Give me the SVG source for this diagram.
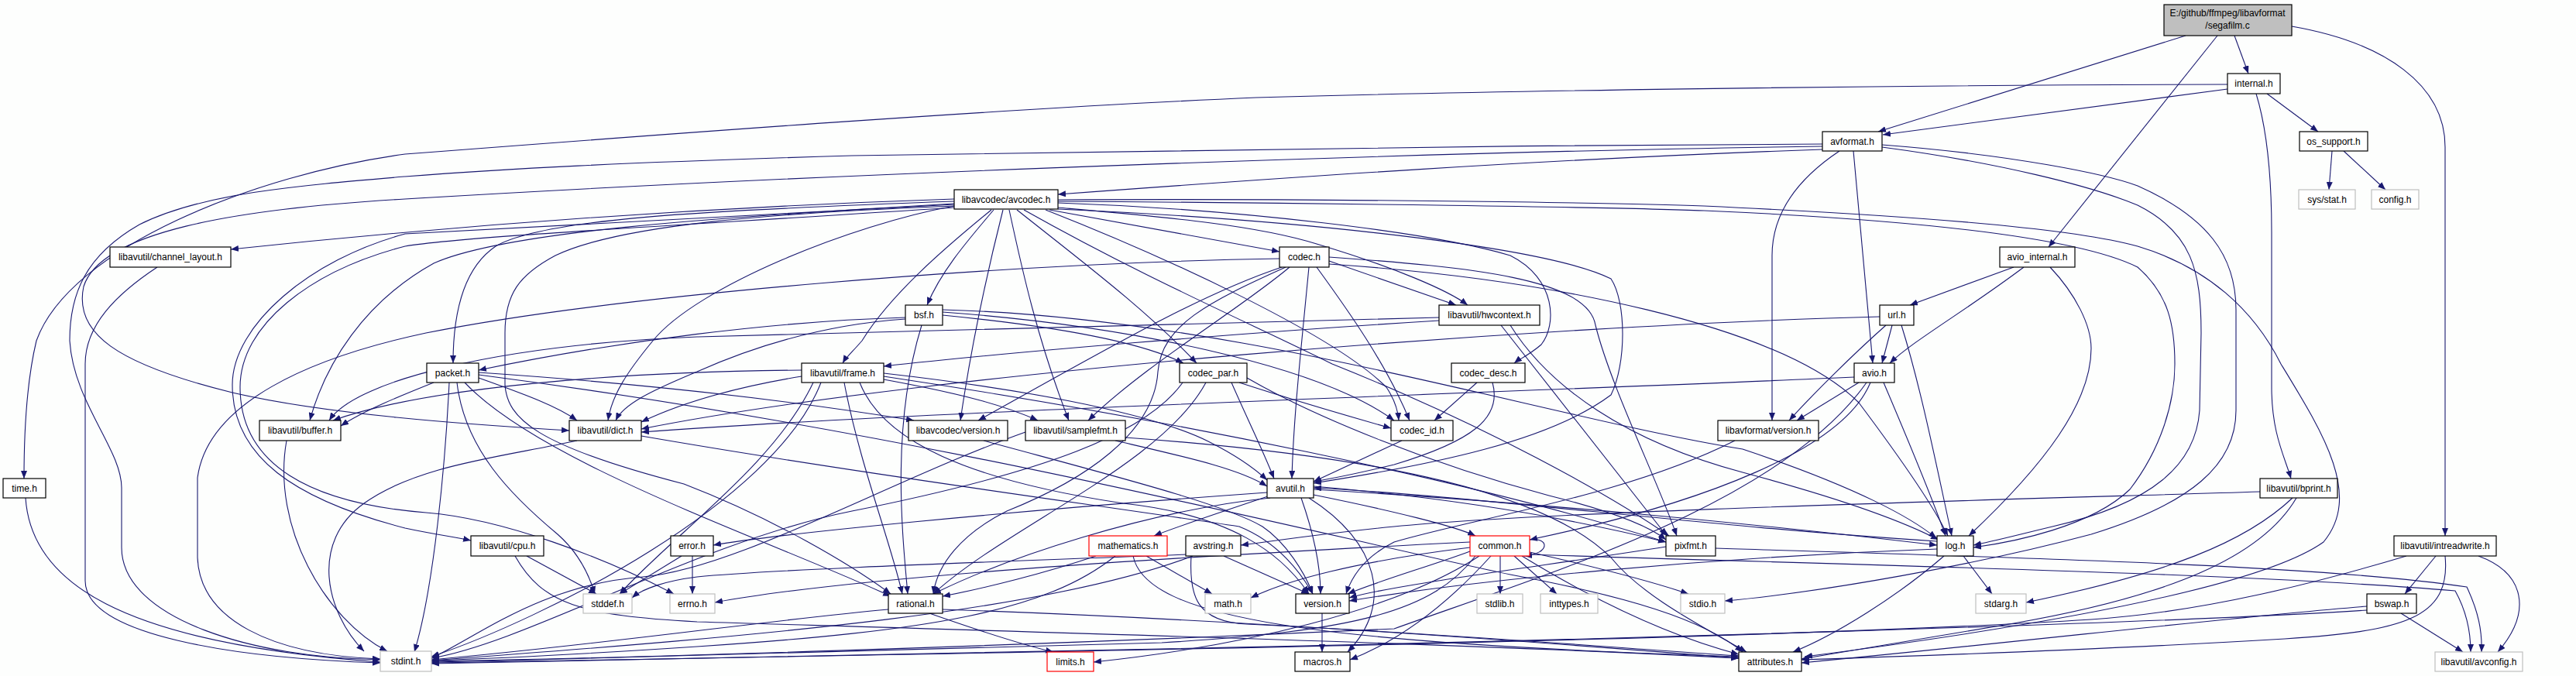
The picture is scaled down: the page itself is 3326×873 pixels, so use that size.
<svg xmlns="http://www.w3.org/2000/svg" width="3326" height="873" viewBox="0 0 3326 873">
<defs>
<marker id="a" viewBox="0 0 10 8" refX="10" refY="4" markerWidth="10" markerHeight="8" markerUnits="userSpaceOnUse" orient="auto"><path d="M0,0 L10,4 L0,8 z" fill="#191970"/></marker>
<style>
.e path{fill:none;stroke:#191970;stroke-width:1.1;marker-end:url(#a)}
.n rect{fill:#ffffff;stroke:#000000;stroke-width:1.2}
.n.g rect{stroke:#bfbfbf}
.n.r rect{stroke:#ff0000}
.n.root rect{fill:#bfbfbf}
text{font-family:"Liberation Sans",Arial,Helvetica,sans-serif;font-size:12px;fill:#000;text-anchor:middle}
</style>
</defs>
<rect x="0" y="0" width="3326" height="873" fill="#fdfefd"/>
<g id="edges" class="e">
<path d="M2885,46 L2903,95"/>
<path d="M2822,46 L2425,170"/>
<path d="M2863,46 L2645,319"/>
<path d="M2959,34 C3080,55 3157,110 3157,190 L3157,692"/>
<path d="M2876,115 L2431,174"/>
<path d="M2876,109 C2400,110 1900,118 1622,126 C1300,140 900,170 523,199 C330,225 90,320 47,440 C35,490 31,550 31,618"/>
<path d="M2913,121 C2928,170 2933,230 2933,300 L2933,500 C2933,560 2950,590 2958,618"/>
<path d="M2927,121 L2993,170"/>
<path d="M3011,195 L3007,245"/>
<path d="M3026,195 L3080,245"/>
<path d="M2353,193 C2000,205 1650,230 1366,251"/>
<path d="M2353,186 C1900,188 1300,195 1100,201 C800,210 650,218 523,228 C380,240 260,250 180,290 C110,330 90,380 90,440 C95,520 157,580 157,630 L157,707 C157,800 330,850 491,852"/>
<path d="M2353,189 C1900,195 1100,222 523,257 C300,270 130,300 108,370 C95,430 150,470 300,507 C420,535 600,548 735,556"/>
<path d="M2375,195 C2315,235 2288,280 2288,330 L2288,543"/>
<path d="M2393,195 L2418,469"/>
<path d="M2430,187 C2600,200 2720,225 2760,240 C2850,280 2887,330 2887,400 L2887,530 C2887,600 2830,650 2700,690 C2550,730 2350,765 2227,776"/>
<path d="M2430,190 C2580,210 2700,240 2760,265 C2830,300 2842,350 2842,430 L2840,530 C2835,600 2780,650 2650,680 C2600,692 2570,700 2548,704"/>
<path d="M2600,345 L2466,394"/>
<path d="M2613,345 C2540,400 2470,440 2440,469"/>
<path d="M2647,345 C2680,380 2700,420 2700,450 C2700,520 2640,600 2542,692"/>
<path d="M3145,718 L3105,767"/>
<path d="M3200,718 C3260,740 3270,790 3225,842"/>
<path d="M3107,718 C3000,750 2850,790 2700,800 C2300,825 1500,840 557,856"/>
<path d="M3157,718 C3165,800 3100,815 2950,825 C2700,840 2450,848 2326,852"/>
<path d="M3100,792 L3180,842"/>
<path d="M3056,788 C2800,805 2000,828 1500,838 C1000,846 700,852 557,857"/>
<path d="M3056,783 C2900,795 2600,830 2326,856"/>
<path d="M2918,635 C2600,645 2000,660 1800,680 C1700,690 1650,698 1602,704"/>
<path d="M2960,643 C2900,700 2800,740 2616,778"/>
<path d="M2965,643 C2920,720 2800,770 2600,805 C2450,830 2380,842 2326,851"/>
<path d="M203,345 C150,380 110,420 110,470 L110,750 C110,820 300,850 491,856"/>
<path d="M1232,257 C900,268 600,290 298,322"/>
<path d="M1232,260 C900,272 700,283 640,318 C600,345 585,400 585,469"/>
<path d="M1232,263 C900,282 650,300 560,340 C470,390 420,470 400,543"/>
<path d="M1232,266 C1100,290 900,370 843,440 C810,480 790,510 785,543"/>
<path d="M1280,271 C1220,320 1150,380 1113,440 C1100,455 1092,462 1088,469"/>
<path d="M1283,271 C1250,310 1215,350 1197,394"/>
<path d="M1295,271 C1275,350 1255,440 1240,543"/>
<path d="M1303,271 C1320,350 1340,440 1380,543"/>
<path d="M1313,271 C1400,340 1480,400 1545,469"/>
<path d="M1355,271 L1652,325"/>
<path d="M1366,268 C1500,280 1620,290 1700,315 C1800,345 1870,375 1895,394"/>
<path d="M1366,262 C1600,270 1850,300 1950,330 C2010,360 2010,420 1990,445 C1975,458 1960,465 1955,469"/>
<path d="M1350,271 C1500,330 1720,430 1790,500 C1800,515 1805,530 1806,543"/>
<path d="M1366,260 C1700,262 2100,268 2200,272 C2500,285 2690,310 2760,345 C2800,380 2808,420 2808,470 C2808,520 2790,580 2750,632 C2700,680 2600,700 2548,707"/>
<path d="M1366,258 C1700,256 2100,262 2200,266 C2500,280 2680,296 2760,318 C2850,345 2910,400 2945,470 C3000,560 3050,640 3000,700 C2930,750 2700,800 2330,848"/>
<path d="M1322,271 C1480,360 1620,420 1720,470 C1920,550 2080,640 2155,692"/>
<path d="M1366,270 C1700,285 2000,320 2080,360 C2100,390 2100,470 2080,510 C2000,570 1850,600 1696,624"/>
<path d="M1232,268 C900,290 600,305 523,318 C400,350 310,420 310,500 C310,600 400,650 550,662 C650,670 780,720 870,767"/>
<path d="M1232,264 C900,284 620,296 523,302 C400,335 300,420 300,497 C300,590 380,645 523,682 C560,690 590,694 608,698"/>
<path d="M1232,266 C1000,275 800,290 717,330 C670,355 652,380 652,430 L652,497 C655,540 690,575 883,625 C1000,670 1100,730 1150,767"/>
<path d="M1652,334 C1300,340 800,380 550,430 C400,462 268,520 255,617 L255,720 C258,800 350,846 491,851"/>
<path d="M1716,337 L1880,394"/>
<path d="M1655,345 C1550,380 1430,450 1263,543"/>
<path d="M1665,345 C1600,400 1480,470 1405,543"/>
<path d="M1660,345 C1560,390 1500,420 1495,480 C1490,560 1400,620 1300,660 C1240,690 1210,730 1205,767"/>
<path d="M1700,345 C1740,400 1790,470 1820,543"/>
<path d="M1690,345 C1680,450 1670,540 1668,618"/>
<path d="M1716,341 C2000,360 2300,420 2400,520 C2460,600 2500,660 2515,692"/>
<path d="M1716,332 C1900,345 2050,360 2060,420 C2080,500 2140,620 2165,692"/>
<path d="M1858,410 C1500,418 1200,425 900,435 C650,445 460,490 425,543"/>
<path d="M1858,414 C1600,430 1300,455 1141,473"/>
<path d="M1950,420 C2000,500 2100,570 2250,610 C2400,650 2470,680 2503,697"/>
<path d="M1938,420 L2152,692"/>
<path d="M1169,410 C1000,415 800,440 618,478"/>
<path d="M1169,412 C1080,418 990,440 900,480 C840,505 805,522 795,543"/>
<path d="M1217,407 C1350,420 1470,440 1528,469"/>
<path d="M1217,403 C1450,420 1700,470 1800,543"/>
<path d="M1217,400 C1600,410 2000,540 2250,580 C2400,630 2470,670 2500,695"/>
<path d="M1190,420 C1150,550 1165,690 1172,767"/>
<path d="M560,494 C520,510 470,530 440,550"/>
<path d="M618,488 C680,510 720,525 745,543"/>
<path d="M590,494 C600,580 660,640 720,690 C745,712 760,740 768,767"/>
<path d="M580,494 C575,600 560,760 535,842"/>
<path d="M600,494 C700,600 1000,700 1150,770"/>
<path d="M618,484 C1200,560 1700,690 1950,742 C2100,770 2200,800 2250,842"/>
<path d="M618,481 C900,500 1100,530 1180,543"/>
<path d="M1035,478 C800,480 550,500 430,543"/>
<path d="M1035,486 C950,500 880,520 828,545"/>
<path d="M1050,494 C1000,600 870,690 800,767"/>
<path d="M1060,494 C1000,650 700,800 557,848"/>
<path d="M1141,482 C1300,500 1480,530 1560,570 C1600,590 1620,605 1636,620"/>
<path d="M1090,494 C1110,600 1150,700 1165,767"/>
<path d="M1141,490 C1250,510 1300,525 1340,543"/>
<path d="M1141,486 C1500,540 1900,620 2151,700"/>
<path d="M1110,494 C1140,570 1250,620 1450,650 C1590,665 1655,715 1690,767"/>
<path d="M1590,494 C1610,540 1630,580 1645,618"/>
<path d="M1600,494 C1680,520 1750,540 1796,553"/>
<path d="M1557,494 C1500,600 1300,680 1205,767"/>
<path d="M1527,494 C1480,560 1350,610 1100,660 C900,700 680,830 557,850"/>
<path d="M1610,488 C1700,540 1850,600 2000,640 C2080,660 2130,680 2151,697"/>
<path d="M1907,494 L1852,543"/>
<path d="M1927,494 C1940,540 1900,570 1800,600 C1750,612 1720,618 1696,622"/>
<path d="M1810,569 L1696,622"/>
<path d="M2443,420 L2430,469"/>
<path d="M2435,420 C2390,460 2340,510 2310,543"/>
<path d="M2427,409 C2000,420 1200,480 828,554"/>
<path d="M2455,420 C2480,500 2500,600 2520,692"/>
<path d="M2400,494 L2320,543"/>
<path d="M2432,494 C2460,560 2490,630 2512,692"/>
<path d="M2415,494 C2380,580 2200,650 1975,697"/>
<path d="M2394,487 C2000,505 1200,530 828,558"/>
<path d="M2410,494 C2300,650 2000,740 1800,812 C1300,835 800,850 557,854"/>
<path d="M370,569 C350,680 420,800 500,841"/>
<path d="M745,569 C650,590 540,600 470,650 C400,700 420,790 470,841"/>
<path d="M828,563 C1100,610 1400,650 1600,680 C1650,700 1680,740 1695,767"/>
<path d="M1270,569 C1420,610 1580,650 1630,680 C1660,700 1685,740 1695,767"/>
<path d="M1440,569 C1530,590 1600,605 1636,628"/>
<path d="M1324,558 C1150,620 950,735 830,745 C700,755 620,820 557,850"/>
<path d="M1453,565 C1800,590 2000,640 2080,720 C2120,770 2200,810 2255,842"/>
<path d="M2240,569 C2100,640 1900,670 1800,700 C1760,720 1745,745 1738,767"/>
<path d="M1696,639 C1800,660 1880,680 1905,692"/>
<path d="M1636,636 C1300,660 1000,690 921,704"/>
<path d="M1640,643 C1480,660 1300,720 1205,767"/>
<path d="M1680,643 C1700,700 1705,740 1705,767"/>
<path d="M1690,643 C1780,700 1800,780 1740,842"/>
<path d="M1640,640 C1580,660 1520,680 1490,692"/>
<path d="M1696,632 C2000,650 2300,680 2501,704"/>
<path d="M1696,628 C1900,645 2050,675 2151,700"/>
<path d="M680,718 L770,767"/>
<path d="M665,718 C700,780 750,795 900,803 C1400,818 1900,832 2245,850"/>
<path d="M894,718 L894,767"/>
<path d="M880,718 L800,767"/>
<path d="M1415,718 C1350,740 1270,760 1217,770"/>
<path d="M1480,718 L1565,767"/>
<path d="M1440,718 C1350,790 1200,815 900,835 C750,845 650,850 557,853"/>
<path d="M1463,718 C1480,800 1700,830 2245,848"/>
<path d="M1531,716 C1300,725 1000,735 900,745 C860,750 830,760 816,772"/>
<path d="M1540,718 C1350,790 1000,820 557,853"/>
<path d="M1538,718 C1535,770 1545,803 1610,806 C1900,820 2100,838 2245,847"/>
<path d="M1580,718 L1690,767"/>
<path d="M1937,718 L1937,767"/>
<path d="M1955,718 L2010,767"/>
<path d="M1975,713 C2050,730 2130,750 2180,767"/>
<path d="M1898,712 C1850,730 1780,750 1740,767"/>
<path d="M1925,718 C1860,790 1800,830 1743,852"/>
<path d="M1910,718 C1800,790 1600,835 1412,855"/>
<path d="M1898,707 C1750,725 1660,750 1615,772"/>
<path d="M1898,700 C1500,720 1100,745 923,778"/>
<path d="M1905,718 C1850,790 1750,815 1500,830 C1000,845 800,850 557,855"/>
<path d="M1965,718 C2050,770 2150,820 2245,845"/>
<path d="M1975,716 C2400,730 2900,740 3170,763 C3185,790 3190,815 3190,842"/>
<path d="M1975,697 C2000,693 2003,715 1968,718"/>
<path d="M2151,706 C2000,730 1800,755 1742,772"/>
<path d="M2215,708 C2600,720 3000,730 3185,758 C3200,790 3205,815 3204,842"/>
<path d="M2535,718 L2572,767"/>
<path d="M2510,718 C2450,770 2370,820 2315,842"/>
<path d="M2501,709 C2200,720 1900,750 1742,776"/>
<path d="M2501,699 C2200,680 1900,640 1696,630"/>
<path d="M1200,792 C1280,820 1330,835 1360,842"/>
<path d="M1147,787 C1000,800 800,830 557,852"/>
<path d="M1217,787 C1600,800 2000,830 2245,850"/>
<path d="M1707,792 L1707,842"/>
<path d="M33,643 C40,750 150,830 491,855"/>
</g>
<g id="n_segafilm" class="n root"><rect x="2794" y="6" width="165" height="40"/><text x="2876" y="21">E:/github/ffmpeg/libavformat</text><text x="2876" y="37">/segafilm.c</text></g>
<g id="n_internal" class="n"><rect x="2876" y="95" width="68" height="26"/><text x="2910" y="112">internal.h</text></g>
<g id="n_avformat" class="n"><rect x="2353" y="170" width="77" height="25"/><text x="2391.5" y="187">avformat.h</text></g>
<g id="n_os_support" class="n"><rect x="2969" y="170" width="88" height="25"/><text x="3013" y="187">os_support.h</text></g>
<g id="n_avcodec" class="n"><rect x="1232" y="245" width="134" height="25"/><text x="1299" y="262">libavcodec/avcodec.h</text></g>
<g id="n_sysstat" class="n g"><rect x="2968" y="245" width="73" height="25"/><text x="3004.5" y="262">sys/stat.h</text></g>
<g id="n_config" class="n g"><rect x="3062" y="245" width="61" height="25"/><text x="3092.5" y="262">config.h</text></g>
<g id="n_channel_layout" class="n"><rect x="142" y="319" width="156" height="26"/><text x="220" y="336">libavutil/channel_layout.h</text></g>
<g id="n_codec" class="n"><rect x="1652" y="319" width="64" height="26"/><text x="1684" y="336">codec.h</text></g>
<g id="n_avio_internal" class="n"><rect x="2582" y="319" width="97" height="26"/><text x="2630.5" y="336">avio_internal.h</text></g>
<g id="n_bsf" class="n"><rect x="1169" y="394" width="48" height="26"/><text x="1193" y="411">bsf.h</text></g>
<g id="n_hwcontext" class="n"><rect x="1858" y="394" width="130" height="26"/><text x="1923" y="411">libavutil/hwcontext.h</text></g>
<g id="n_url" class="n"><rect x="2427" y="394" width="44" height="26"/><text x="2449" y="411">url.h</text></g>
<g id="n_packet" class="n"><rect x="551" y="469" width="67" height="25"/><text x="584.5" y="486">packet.h</text></g>
<g id="n_frame" class="n"><rect x="1035" y="469" width="106" height="25"/><text x="1088" y="486">libavutil/frame.h</text></g>
<g id="n_codec_par" class="n"><rect x="1523" y="469" width="87" height="25"/><text x="1566.5" y="486">codec_par.h</text></g>
<g id="n_codec_desc" class="n"><rect x="1874" y="469" width="95" height="25"/><text x="1921.5" y="486">codec_desc.h</text></g>
<g id="n_avio" class="n"><rect x="2394" y="469" width="52" height="25"/><text x="2420" y="486">avio.h</text></g>
<g id="n_buffer" class="n"><rect x="335" y="543" width="105" height="26"/><text x="387.5" y="560">libavutil/buffer.h</text></g>
<g id="n_dict" class="n"><rect x="735" y="543" width="93" height="26"/><text x="781.5" y="560">libavutil/dict.h</text></g>
<g id="n_lavc_version" class="n"><rect x="1173" y="543" width="128" height="26"/><text x="1237" y="560">libavcodec/version.h</text></g>
<g id="n_samplefmt" class="n"><rect x="1324" y="543" width="129" height="26"/><text x="1388.5" y="560">libavutil/samplefmt.h</text></g>
<g id="n_codec_id" class="n"><rect x="1796" y="543" width="80" height="26"/><text x="1836" y="560">codec_id.h</text></g>
<g id="n_lavf_version" class="n"><rect x="2218" y="543" width="130" height="26"/><text x="2283" y="560">libavformat/version.h</text></g>
<g id="n_time" class="n"><rect x="4" y="618" width="55" height="25"/><text x="31.5" y="635">time.h</text></g>
<g id="n_avutil" class="n"><rect x="1636" y="618" width="60" height="25"/><text x="1666" y="635">avutil.h</text></g>
<g id="n_bprint" class="n"><rect x="2918" y="618" width="100" height="25"/><text x="2968" y="635">libavutil/bprint.h</text></g>
<g id="n_cpu" class="n"><rect x="608" y="692" width="94" height="26"/><text x="655" y="709">libavutil/cpu.h</text></g>
<g id="n_error" class="n"><rect x="866" y="692" width="55" height="26"/><text x="893.5" y="709">error.h</text></g>
<g id="n_mathematics" class="n r"><rect x="1406" y="692" width="101" height="26"/><text x="1456.5" y="709">mathematics.h</text></g>
<g id="n_avstring" class="n"><rect x="1531" y="692" width="71" height="26"/><text x="1566.5" y="709">avstring.h</text></g>
<g id="n_common" class="n r"><rect x="1898" y="692" width="77" height="26"/><text x="1936.5" y="709">common.h</text></g>
<g id="n_pixfmt" class="n"><rect x="2151" y="692" width="64" height="26"/><text x="2183" y="709">pixfmt.h</text></g>
<g id="n_log" class="n"><rect x="2501" y="692" width="47" height="26"/><text x="2524.5" y="709">log.h</text></g>
<g id="n_intreadwrite" class="n"><rect x="3091" y="692" width="132" height="26"/><text x="3157" y="709">libavutil/intreadwrite.h</text></g>
<g id="n_stddef" class="n g"><rect x="753" y="767" width="63" height="25"/><text x="784.5" y="784">stddef.h</text></g>
<g id="n_errno" class="n g"><rect x="865" y="767" width="58" height="25"/><text x="894" y="784">errno.h</text></g>
<g id="n_rational" class="n"><rect x="1147" y="767" width="70" height="25"/><text x="1182" y="784">rational.h</text></g>
<g id="n_math" class="n g"><rect x="1556" y="767" width="59" height="25"/><text x="1585.5" y="784">math.h</text></g>
<g id="n_version" class="n"><rect x="1673" y="767" width="69" height="25"/><text x="1707.5" y="784">version.h</text></g>
<g id="n_stdlib" class="n g"><rect x="1907" y="767" width="59" height="25"/><text x="1936.5" y="784">stdlib.h</text></g>
<g id="n_inttypes" class="n g"><rect x="1989" y="767" width="74" height="25"/><text x="2026" y="784">inttypes.h</text></g>
<g id="n_stdio" class="n g"><rect x="2170" y="767" width="57" height="25"/><text x="2198.5" y="784">stdio.h</text></g>
<g id="n_stdarg" class="n g"><rect x="2551" y="767" width="65" height="25"/><text x="2583.5" y="784">stdarg.h</text></g>
<g id="n_bswap" class="n"><rect x="3056" y="767" width="64" height="25"/><text x="3088" y="784">bswap.h</text></g>
<g id="n_stdint" class="n g"><rect x="491" y="841" width="66" height="26"/><text x="524" y="858">stdint.h</text></g>
<g id="n_limits" class="n r"><rect x="1352" y="842" width="60" height="25"/><text x="1382" y="859">limits.h</text></g>
<g id="n_macros" class="n"><rect x="1672" y="842" width="71" height="25"/><text x="1707.5" y="859">macros.h</text></g>
<g id="n_attributes" class="n"><rect x="2245" y="842" width="81" height="25"/><text x="2285.5" y="859">attributes.h</text></g>
<g id="n_avconfig" class="n g"><rect x="3144" y="842" width="113" height="25"/><text x="3200.5" y="859">libavutil/avconfig.h</text></g>
</svg>
